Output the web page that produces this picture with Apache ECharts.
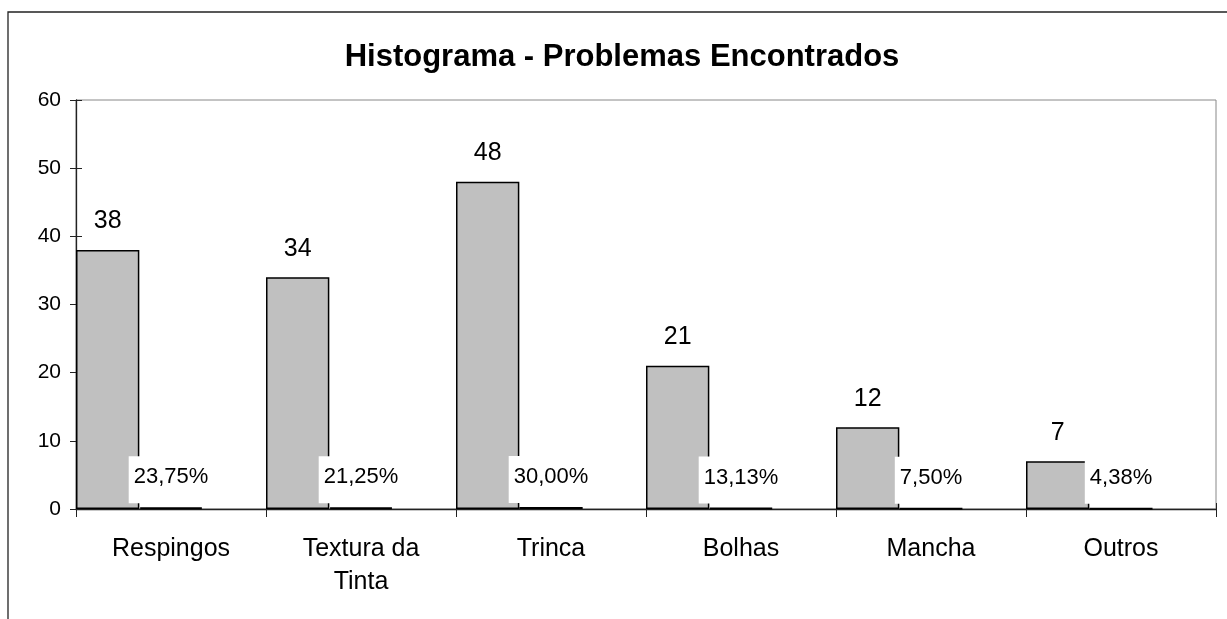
<!DOCTYPE html>
<html>
<head>
<meta charset="utf-8">
<title>Histograma - Problemas Encontrados</title>
<script src="https://cdn.jsdelivr.net/npm/echarts@6/dist/echarts.min.js"></script>
<style>
  html, body { margin: 0; padding: 0; background: #fff; }
  #chart { width: 1227px; height: 619px; }
</style>
</head>
<body>
<div id="chart"></div>
<script>
// dados
const categorias = ['Respingos', 'Textura da\nTinta', 'Trinca', 'Bolhas', 'Mancha', 'Outros']
const quantidades = [38, 34, 48, 21, 12, 7]
const percentuais = [0.2375, 0.2125, 0.30, 0.1313, 0.075, 0.0438]
const yTicks = { min: 0, max: 60, interval: 10 }

const FONT = "'Liberation Sans', Arial, sans-serif"
const fmtPct = v => (v * 100).toFixed(2).replace('.', ',') + '%'

const chart = echarts.init(document.getElementById('chart'))
chart.setOption({
  animation: false,
  backgroundColor: '#fff',
  textStyle: { fontFamily: FONT, color: '#000' },
  title: {
    text: 'Histograma - Problemas Encontrados',
    left: 622, top: 42, textAlign: 'center', padding: 0,
    textStyle: { fontFamily: FONT, fontSize: 31, fontWeight: 'bold', color: '#000' }
  },
  graphic: [{
    type: 'rect', silent: true, z: 100,
    shape: { x: 8, y: 12, width: 1400, height: 800 },
    style: { fill: 'none', stroke: '#222', lineWidth: 1.3 }
  }],
  grid: { left: 76, right: 11, top: 100, bottom: 110, show: true, borderColor: '#888', borderWidth: 1, backgroundColor: 'transparent' },
  xAxis: [
    {
      type: 'category', data: categorias, boundaryGap: true,
      axisLine: { lineStyle: { color: '#222', width: 1.3 } },
      axisTick: { show: true, length: 8, lineStyle: { color: '#222' } },
      axisLabel: { fontFamily: FONT, fontSize: 25, color: '#000', margin: 24, lineHeight: 33, interval: 0 },
      splitLine: { show: false }
    },
    {
      type: 'category', data: categorias, position: 'bottom', boundaryGap: true,
      axisLine: { show: false },
      axisTick: { show: true, inside: true, length: 6, lineStyle: { color: '#222' } },
      axisLabel: { show: false }, splitLine: { show: false }
    }
  ],
  yAxis: [
    {
      type: 'value', min: yTicks.min, max: yTicks.max, interval: yTicks.interval,
      axisLine: { show: true, lineStyle: { color: '#222', width: 1.3 } },
      axisTick: { show: true, length: 6, lineStyle: { color: '#222' } },
      axisLabel: { fontFamily: FONT, fontSize: 21, color: '#000', margin: 15 },
      splitLine: { show: false }
    },
    {
      type: 'value', position: 'left', min: yTicks.min, max: yTicks.max, interval: yTicks.interval,
      axisLine: { show: false },
      axisTick: { show: true, inside: true, length: 6, lineStyle: { color: '#222' } },
      axisLabel: { show: false }, splitLine: { show: false }
    }
  ],
  series: [
    {
      name: 'Quantidade', type: 'bar', data: quantidades,
      barGap: '0%', barCategoryGap: '0%',
      itemStyle: { color: '#c0c0c0', borderColor: '#000', borderWidth: 1.5 },
      label: { show: true, position: 'top', distance: 16, fontFamily: FONT, fontSize: 25, color: '#000' }
    },
    {
      name: 'Percentual', type: 'bar', data: percentuais,
      barGap: '0%', barCategoryGap: '0%',
      itemStyle: { color: '#c0c0c0', borderColor: '#000', borderWidth: 2 },
      label: {
        show: true, position: 'top', distance: 4,
        fontFamily: FONT, fontSize: 22, color: '#000',
        backgroundColor: '#fff', padding: [10, 5, 15, 5],
        formatter: p => fmtPct(p.value)
      }
    },
    // serie vazia so para reservar o terceiro espaco de cada categoria
    { name: 'vazio', type: 'bar', data: [], barGap: '0%', barCategoryGap: '0%' }
  ]
})
</script>
</body>
</html>
